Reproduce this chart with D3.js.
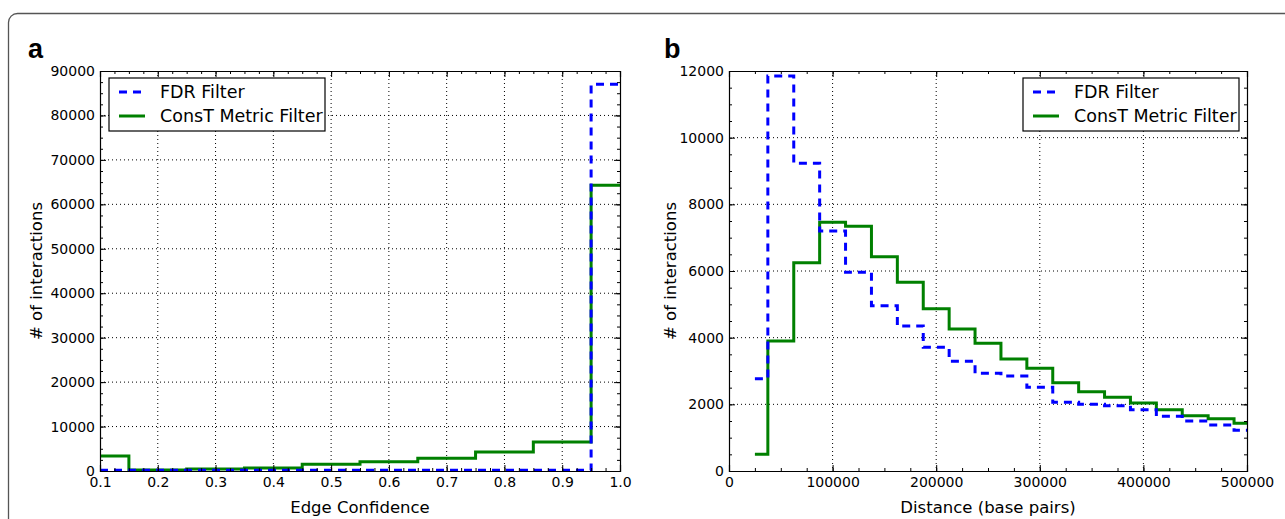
<!DOCTYPE html>
<html>
<head>
<meta charset="utf-8">
<script src="https://cdn.jsdelivr.net/npm/d3@7"></script>
<style>
  body { margin: 0; background: white; }
  text { font-family: "DejaVu Sans", sans-serif; fill: #000; }
  .panel-tag { font-family: "Liberation Sans", Arial, sans-serif; font-weight: bold; font-size: 27px; }
</style>
</head>
<body>
<svg id="fig" width="1285" height="519"></svg>
<script>
// panel a: edge confidence histogram (bin centres)
const confBins = [0.1, 0.2, 0.3, 0.4, 0.5, 0.6, 0.7, 0.8, 0.9, 1.0];
const confFDR = [150, 150, 150, 150, 150, 150, 150, 150, 150, 87000];
const confConsT = [3400, 250, 450, 700, 1500, 2100, 2850, 4300, 6550, 64300];
const confTicks = [0.1, 0.2, 0.3, 0.4, 0.5, 0.6, 0.7, 0.8, 0.9, 1.0];
const confYTicks = [0, 10000, 20000, 30000, 40000, 50000, 60000, 70000, 80000, 90000];

// panel b: distance histogram (bin centres)
const distBins = [25000, 50000, 75000, 100000, 125000, 150000, 175000, 200000, 225000, 250000,
                  275000, 300000, 325000, 350000, 375000, 400000, 425000, 450000, 475000, 500000];
const distFDR = [2770, 11850, 9230, 7200, 5960, 4960, 4350, 3710, 3290, 2930,
                 2850, 2510, 2060, 2000, 1960, 1840, 1640, 1500, 1380, 1220];
const distConsT = [500, 3900, 6250, 7460, 7340, 6430, 5660, 4870, 4260, 3830,
                   3360, 3080, 2650, 2380, 2210, 2040, 1840, 1660, 1570, 1430];
const distTicks = [0, 100000, 200000, 300000, 400000, 500000];
const distYTicks = [0, 2000, 4000, 6000, 8000, 10000, 12000];

const seriesNames = ["FDR Filter", "ConsT Metric Filter"];

const svg = d3.select("svg#fig");

// outer rounded frame, runs off the right/bottom
svg.append("rect")
   .attr("x", 8.5).attr("y", 13.5)
   .attr("width", 1320).attr("height", 600)
   .attr("rx", 9)
   .attr("fill", "none").attr("stroke", "#555").attr("stroke-width", 1.3)

function drawPanel(p) {
    const g = svg.append("g");
    const x = d3.scaleLinear().domain(p.xDomain).range([p.left, p.right]);
    const y = d3.scaleLinear().domain(p.yDomain).range([p.bottom, p.top]);
    const xMinor = d3.range(p.xDomain[0], p.xDomain[1] + p.xMinorStep / 2, p.xMinorStep);
    const yMinor = d3.range(p.yDomain[0], p.yDomain[1] + p.yMinorStep / 2, p.yMinorStep);

    // dotted grid
    g.selectAll("line.gx").data(p.xTicks.slice(1, -1)).join("line")
        .attr("x1", d => x(d)).attr("x2", d => x(d))
        .attr("y1", p.top).attr("y2", p.bottom)
        .attr("stroke", "#000").attr("stroke-width", 1).attr("stroke-dasharray", "1,3")
    g.selectAll("line.gy").data(p.yTicks.slice(1, -1)).join("line")
        .attr("y1", d => y(d)).attr("y2", d => y(d))
        .attr("x1", p.left).attr("x2", p.right)
        .attr("stroke", "#000").attr("stroke-width", 1).attr("stroke-dasharray", "1,3")

    // step lines (mid steps, like matplotlib steps-mid)
    const line = d3.line().curve(d3.curveStep)
        .x(d => x(d[0])).y(d => y(d[1]));
    g.append("path")
        .datum(p.bins.map((b, i) => [b, p.consT[i]]))
        .attr("d", line)
        .attr("fill", "none").attr("stroke", "#008000").attr("stroke-width", 3)
    g.append("path")
        .datum(p.bins.map((b, i) => [b, p.fdr[i]]))
        .attr("d", line)
        .attr("fill", "none").attr("stroke", "#0000ff").attr("stroke-width", 3)
        .attr("stroke-dasharray", "8,6")

    // inward ticks on all four sides
    const axes = [
        d3.axisBottom(x).tickValues(p.xTicks).tickSize(-6).tickPadding(6).tickFormat(p.xFormat),
        d3.axisTop(x).tickValues(p.xTicks).tickSize(-6).tickFormat(""),
        d3.axisLeft(y).tickValues(p.yTicks).tickSize(-6).tickPadding(5).tickFormat(d3.format("d")),
        d3.axisRight(y).tickValues(p.yTicks).tickSize(-6).tickFormat("")
    ];
    const minors = [
        d3.axisBottom(x).tickValues(xMinor).tickSize(-3).tickFormat(""),
        d3.axisTop(x).tickValues(xMinor).tickSize(-3).tickFormat(""),
        d3.axisLeft(y).tickValues(yMinor).tickSize(-3).tickFormat(""),
        d3.axisRight(y).tickValues(yMinor).tickSize(-3).tickFormat("")
    ];
    const pos = [`translate(0,${p.bottom})`, `translate(0,${p.top})`,
                 `translate(${p.left},0)`, `translate(${p.right},0)`];
    minors.forEach((a, i) => {
        g.append("g").attr("transform", pos[i]).call(a)
            .call(s => s.select(".domain").remove())
            .selectAll("line").attr("stroke", "#000")
    })
    axes.forEach((a, i) => {
        const ax = g.append("g").attr("transform", pos[i]).call(a);
        ax.select(".domain").attr("stroke", "#000").attr("stroke-width", 1.2);
        ax.selectAll("line").attr("stroke", "#000");
        ax.selectAll("text").attr("font-size", 14).attr("font-family", "DejaVu Sans");
    })

    // axis titles
    g.append("text")
        .attr("x", (p.left + p.right) / 2).attr("y", p.bottom + 42)
        .attr("text-anchor", "middle").attr("font-size", 16.5)
        .text(p.xLabel)
    g.append("text")
        .attr("transform", `translate(${p.yLabelX},${(p.top + p.bottom) / 2}) rotate(-90)`)
        .attr("text-anchor", "middle").attr("font-size", 16.5)
        .text("# of interactions")

    // panel tag
    g.append("text").attr("class", "panel-tag")
        .attr("x", p.tagX).attr("y", 58)
        .text(p.tag)

    // legend
    const lg = g.append("g").attr("transform", `translate(${p.legendX},${p.top + 7})`);
    lg.append("rect")
        .attr("width", 216).attr("height", 53)
        .attr("fill", "white").attr("stroke", "#000").attr("stroke-width", 1.2)
    const styles = [{c: "#0000ff", dash: "8,6"}, {c: "#008000", dash: null}];
    seriesNames.forEach((name, i) => {
        lg.append("line")
            .attr("x1", 10).attr("x2", 36)
            .attr("y1", 14 + i * 24).attr("y2", 14 + i * 24)
            .attr("stroke", styles[i].c).attr("stroke-width", 3)
            .attr("stroke-dasharray", styles[i].dash)
        lg.append("text")
            .attr("x", 51).attr("y", 14 + i * 24)
            .attr("dominant-baseline", "central")
            .attr("font-size", 17.5)
            .text(name)
    })
}

drawPanel({
    tag: "a", tagX: 28,
    left: 100, right: 620, top: 71, bottom: 471,
    xDomain: [0.1, 1.0], yDomain: [0, 90000],
    xTicks: confTicks, yTicks: confYTicks, xFormat: d3.format(".1f"),
    xMinorStep: 0.025, yMinorStep: 2500,
    bins: confBins, fdr: confFDR, consT: confConsT,
    xLabel: "Edge Confidence", yLabelX: 42, legendX: 109
})

drawPanel({
    tag: "b", tagX: 664,
    left: 729, right: 1247, top: 71, bottom: 471,
    xDomain: [0, 500000], yDomain: [0, 12000],
    xTicks: distTicks, yTicks: distYTicks, xFormat: d3.format("d"),
    xMinorStep: 25000, yMinorStep: 500,
    bins: distBins, fdr: distFDR, consT: distConsT,
    xLabel: "Distance (base pairs)", yLabelX: 676, legendX: 1023
})
</script>
</body>
</html>
